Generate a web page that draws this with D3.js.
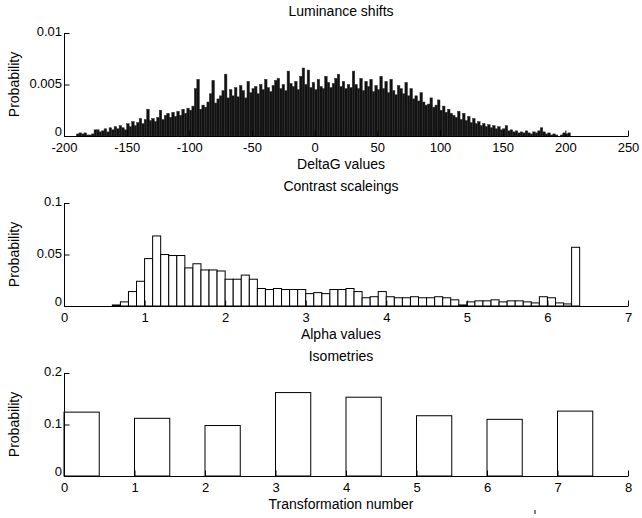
<!DOCTYPE html>
<html><head><meta charset="utf-8">
<script src="https://cdn.jsdelivr.net/npm/d3@7/dist/d3.min.js"></script>
<style>
body{margin:0;background:#fff}
text{font-family:"Liberation Sans",Arial,Helvetica,sans-serif;fill:#000}
</style>
</head><body>
<svg id="chart" width="642" height="518"></svg>
<script>
// ---------- Data ----------
// Panel 1: Luminance shifts (histogram, bin width 2, probabilities in units of 1e-3)
const lumTitle = "Luminance shifts";
const lumXLabel = "DeltaG values";
const lumBinStart = -190;
const lumBinWidth = 2;
const lumPerMille = [
  0.2,0.3,0.2,0.3,0.1,0.1,0.2,0.6,0.6,0.4,
  0.5,0.7,0.4,0.8,0.6,0.9,0.7,1.0,0.8,0.6,
  1.2,0.9,1.4,1.0,1.3,1.7,1.2,1.6,2.6,1.5,
  1.7,1.4,1.8,2.5,1.6,2.0,2.2,1.8,2.3,1.9,
  2.4,2.0,2.6,2.2,2.7,2.5,2.9,4.6,5.5,2.6,
  3.0,2.8,3.3,4.1,5.4,3.2,3.6,3.9,4.4,6.0,
  3.7,4.5,3.9,4.7,3.8,4.9,4.4,3.7,5.3,4.2,
  4.6,4.8,4.1,5.0,4.5,5.5,4.7,4.3,4.9,5.4,
  5.6,4.6,5.0,4.4,6.3,5.1,4.8,5.3,4.5,5.8,
  6.6,5.0,6.4,4.7,5.2,4.5,5.5,4.8,4.6,5.8,
  5.2,4.7,5.1,5.6,6.0,4.8,5.3,4.6,5.0,4.7,
  6.3,5.0,4.6,5.6,4.4,5.3,4.8,5.5,4.3,4.9,
  4.5,5.8,4.6,5.3,4.2,5.5,4.4,4.0,4.9,4.6,
  4.1,5.2,3.9,4.6,3.6,3.9,3.4,4.2,3.3,3.0,
  3.1,3.7,2.8,3.0,3.5,2.5,2.9,2.3,2.6,2.2,
  2.0,1.8,2.4,1.6,2.2,1.5,1.9,1.3,1.7,1.2,
  1.4,1.0,1.2,0.9,1.1,0.8,1.0,0.7,0.9,0.6,
  0.7,1.0,0.5,0.6,0.4,0.5,0.3,0.4,0.3,0.5,
  0.3,0.2,0.4,0.3,0.5,0.8,0.4,0.2,0.3,0.1,
  0.2,0.1,0.0,0.1,0.3,0.2,0.3,0.0
];
const lumXTicks = [-200,-150,-100,-50,0,50,100,150,200,250];
const lumYTicks = [0,0.005,0.01];

// Panel 2: Contrast scaleings (histogram, bin width 0.1)
const alphaTitle = "Contrast scaleings";
const alphaXLabel = "Alpha values";
const alphaBinStart = 0.6;
const alphaBinWidth = 0.1;
const alphaProb = [
  0.001,0.004,0.014,0.024,0.046,0.068,0.050,0.049,0.049,0.037,
  0.041,0.035,0.035,0.034,0.026,0.026,0.030,0.026,0.017,0.016,
  0.017,0.016,0.016,0.016,0.012,0.013,0.012,0.016,0.016,0.017,
  0.014,0.008,0.009,0.014,0.009,0.008,0.008,0.009,0.008,0.008,
  0.009,0.008,0.006,0.001,0.004,0.005,0.005,0.006,0.004,0.005,
  0.005,0.004,0.003,0.009,0.008,0.003,0.002,0.057
];
const alphaXTicks = [0,1,2,3,4,5,6,7];
const alphaYTicks = [0,0.05,0.1];

// Panel 3: Isometries
const isoTitle = "Isometries";
const isoXLabel = "Transformation number";
const isoNumbers = [0,1,2,3,4,5,6,7];
const isoProb = [0.124,0.112,0.098,0.162,0.153,0.117,0.110,0.126];
const isoBarWidth = 0.5;
const isoXTicks = [0,1,2,3,4,5,6,7,8];
const isoYTicks = [0,0.1,0.2];

const yLabel = "Probability";

// ---------- Layout ----------
const svg = d3.select("#chart");
svg.append("rect").attr("width",642).attr("height",518).attr("fill","#fff");
const left = 64, right = 628, panelH = 103;
const FS = 13, LFS = 14, textCenter = 341;

function panel(top, titleGap, xDomain, yDomain, xTicks, yTicks, bars, style, title, xLabel){
  const x = d3.scaleLinear().domain(xDomain).range([left, right]);
  const y = d3.scaleLinear().domain(yDomain).range([top + panelH, top]);
  const g = svg.append("g");

  g.selectAll("rect.bar").data(bars).enter().append("rect")
    .attr("class","bar")
    .attr("x", d => x(d.x0))
    .attr("width", d => x(d.x1) - x(d.x0))
    .attr("y", d => y(d.y))
    .attr("height", d => y(0) - y(d.y))
    .attr("fill", style.fill)
    .attr("stroke", style.stroke)
    .attr("stroke-width", style.sw);

  const xa = g.append("g").attr("transform", `translate(0,${y(0)})`)
    .call(d3.axisBottom(x).tickValues(xTicks).tickSizeInner(-5.5).tickSizeOuter(0).tickPadding(7).tickFormat(d => String(d)));
  const ya = g.append("g").attr("transform", `translate(${left},0)`)
    .call(d3.axisLeft(y).tickValues(yTicks).tickSizeInner(-5.5).tickSizeOuter(0).tickPadding(2).tickFormat(d => String(d)));
  [xa, ya].forEach(a => {
    a.selectAll("path,line").attr("stroke","#000").attr("stroke-width",1);
    a.selectAll("text").attr("font-size", FS).attr("font-family","'Liberation Sans', Arial, sans-serif");
  });
  ya.selectAll("text").attr("dy", d => d === 0 ? "-0.05em" : "0.2em");

  g.append("text").attr("x", textCenter).attr("y", top - titleGap)
    .attr("text-anchor","middle").attr("font-size", LFS).text(title);
  g.append("text").attr("x", textCenter).attr("y", top + panelH + 33)
    .attr("text-anchor","middle").attr("font-size", LFS).text(xLabel);
  g.append("text").attr("transform", `translate(19,${top + panelH/2}) rotate(-90)`)
    .attr("text-anchor","middle").attr("font-size", LFS).text(yLabel);
}

const lumBars = lumPerMille.map((v,i) => ({x0: lumBinStart + i*lumBinWidth, x1: lumBinStart + (i+1)*lumBinWidth, y: v/1000}));
const alphaBars = alphaProb.map((v,i) => ({x0: alphaBinStart + i*alphaBinWidth, x1: alphaBinStart + (i+1)*alphaBinWidth, y: v}));
const isoBars = isoProb.map((v,i) => ({x0: isoNumbers[i], x1: isoNumbers[i] + isoBarWidth, y: v}));

panel(33, 17, [-200,250], [0,0.01], lumXTicks, lumYTicks, lumBars, {fill:"#111", stroke:"#2a2a2a", sw:0.5}, lumTitle, lumXLabel);
panel(203, 12, [0,7], [0,0.1], alphaXTicks, alphaYTicks, alphaBars, {fill:"#fff", stroke:"#000", sw:1}, alphaTitle, alphaXLabel);
panel(373, 12, [0,8], [0,0.2], isoXTicks, isoYTicks, isoBars, {fill:"#fff", stroke:"#000", sw:1}, isoTitle, isoXLabel);

// small stray mark near the bottom edge of the reference figure
svg.append("line").attr("x1",535).attr("x2",535).attr("y1",510).attr("y2",514)
  .attr("stroke","#000").attr("stroke-width",1);
</script>
</body></html>
